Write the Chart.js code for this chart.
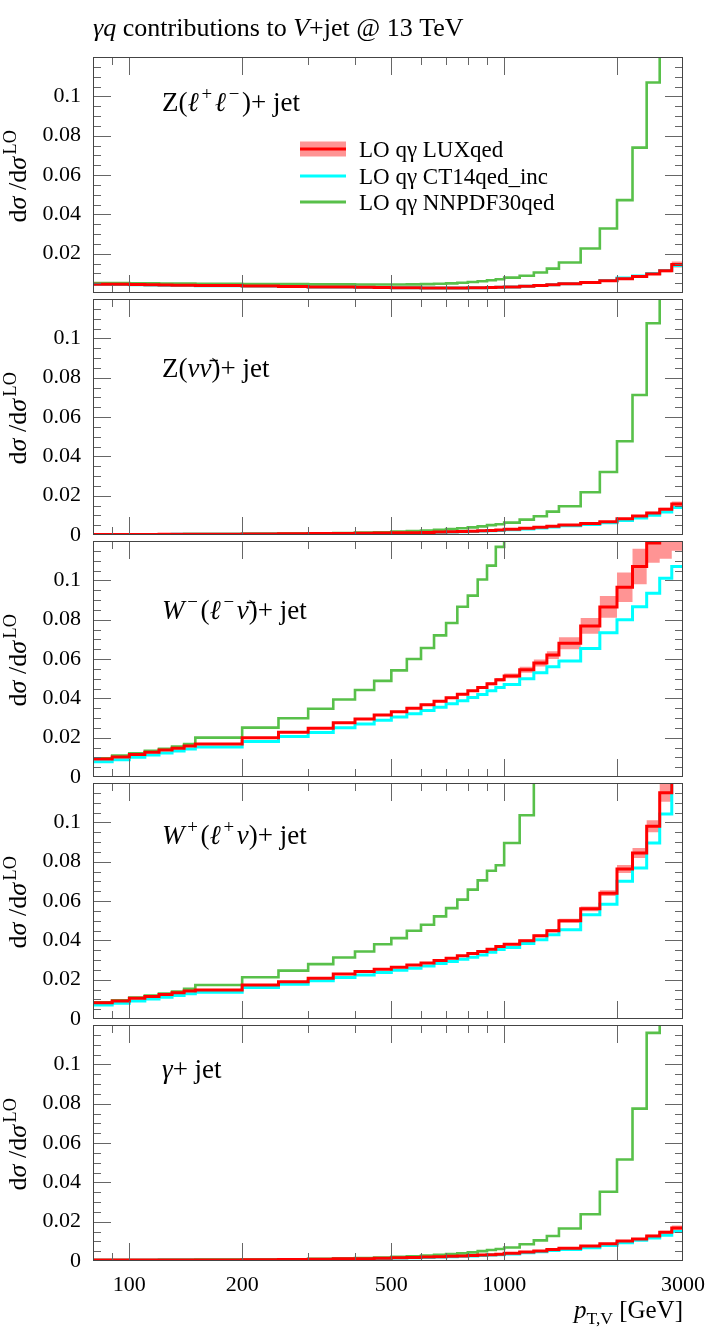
<!DOCTYPE html>
<html>
<head>
<meta charset="utf-8">
<script src="https://cdn.jsdelivr.net/npm/chart.js@4.4.1/dist/chart.umd.min.js"></script>
<style>
  body { margin: 0; background: #fff; }
  #wrap { position: relative; width: 712px; height: 1329px; }
  #wrap canvas { position: absolute; left: 0; }
</style>
</head>
<body>
<div id="wrap"></div>
<script>
// pT bin edges [GeV]
const binEdges = [80, 90, 100, 110, 120, 130, 140, 150, 200, 250, 300, 350, 400, 450, 500, 550, 600, 650,
  700, 750, 800, 850, 900, 950, 1000, 1100, 1200, 1300, 1400, 1600, 1800, 2000, 2200, 2400, 2600, 2800, 3000];

const seriesNames = ['LO qγ LUXqed', 'LO qγ CT14qed_inc', 'LO qγ NNPDF30qed'];

// axis ticks
const xLabelValues = [100, 200, 500, 1000, 3000];
const xTickValues = [90, 100, 200, 300, 400, 500, 600, 700, 800, 900, 1000, 2000];
const xLongTicks = [100, 200, 500, 1000, 2000];
const yTickValues = [0, 0.02, 0.04, 0.06, 0.08, 0.1];

// Z(l+l-) + jet
const zllLux = [0.0045, 0.0044, 0.0043, 0.0042, 0.0041, 0.0040, 0.0040, 0.0038, 0.0035, 0.0033, 0.0031, 0.0030,
  0.0029, 0.0028, 0.0027, 0.0027, 0.0026, 0.0026, 0.0026, 0.0026, 0.0027, 0.0027, 0.0028, 0.0029,
  0.0031, 0.0034, 0.0038, 0.0042, 0.0047, 0.0053, 0.0062, 0.0073, 0.0084, 0.0097, 0.0113, 0.0145];
const zllLuxErr = [0.0002, 0.0002, 0.0002, 0.0002, 0.0002, 0.0002, 0.0002, 0.0002, 0.0002, 0.0002, 0.0002, 0.0002,
  0.0002, 0.0002, 0.0002, 0.0002, 0.0002, 0.0002, 0.0002, 0.0002, 0.0002, 0.0002, 0.0002, 0.0002,
  0.0002, 0.0002, 0.0002, 0.0002, 0.0003, 0.0003, 0.0004, 0.0004, 0.0005, 0.0006, 0.0008, 0.0015];
const zllCt14 = [0.0044, 0.0043, 0.0042, 0.0041, 0.0040, 0.0039, 0.0039, 0.0037, 0.0035, 0.0033, 0.0031, 0.0030,
  0.0029, 0.0028, 0.0027, 0.0027, 0.0026, 0.0026, 0.0026, 0.0026, 0.0027, 0.0027, 0.0028, 0.0029,
  0.0031, 0.0034, 0.0038, 0.0042, 0.0047, 0.0054, 0.0064, 0.0076, 0.0087, 0.0099, 0.0114, 0.0140];
const zllNnpdf = [0.0050, 0.0050, 0.0049, 0.0049, 0.0048, 0.0048, 0.0048, 0.0047, 0.0046, 0.0045, 0.0044, 0.0044,
  0.0043, 0.0043, 0.0043, 0.0044, 0.0045, 0.0047, 0.0049, 0.0052, 0.0056, 0.0060, 0.0065, 0.0070,
  0.0078, 0.0088, 0.0104, 0.0124, 0.0155, 0.0226, 0.0328, 0.0472, 0.0739, 0.1070, 0.1500, 0.2000];

// Z(nu nubar) + jet
const znnLux = [0.0003, 0.0003, 0.0003, 0.0003, 0.0004, 0.0004, 0.0004, 0.0004, 0.0005, 0.0006, 0.0007, 0.0008,
  0.0009, 0.0010, 0.0011, 0.0012, 0.0013, 0.0015, 0.0016, 0.0018, 0.0019, 0.0021, 0.0023, 0.0025,
  0.0029, 0.0034, 0.0039, 0.0044, 0.0051, 0.0058, 0.0068, 0.0082, 0.0097, 0.0112, 0.0131, 0.0158];
const znnLuxErr = [0.0001, 0.0001, 0.0001, 0.0001, 0.0001, 0.0001, 0.0001, 0.0001, 0.0001, 0.0001, 0.0001, 0.0001,
  0.0001, 0.0001, 0.0001, 0.0001, 0.0001, 0.0001, 0.0001, 0.0001, 0.0001, 0.0001, 0.0001, 0.0001,
  0.0002, 0.0002, 0.0002, 0.0002, 0.0003, 0.0003, 0.0003, 0.0004, 0.0005, 0.0006, 0.0008, 0.0012];
const znnCt14 = [0.0003, 0.0003, 0.0003, 0.0003, 0.0003, 0.0004, 0.0004, 0.0004, 0.0005, 0.0005, 0.0006, 0.0007,
  0.0008, 0.0009, 0.0010, 0.0011, 0.0012, 0.0014, 0.0015, 0.0017, 0.0018, 0.0020, 0.0021, 0.0023,
  0.0027, 0.0031, 0.0036, 0.0041, 0.0047, 0.0053, 0.0062, 0.0074, 0.0086, 0.0100, 0.0117, 0.0140];
const znnNnpdf = [0.0003, 0.0003, 0.0003, 0.0004, 0.0004, 0.0004, 0.0005, 0.0005, 0.0006, 0.0007, 0.0008, 0.0010,
  0.0012, 0.0014, 0.0017, 0.0020, 0.0023, 0.0027, 0.0030, 0.0034, 0.0039, 0.0044, 0.0050, 0.0055,
  0.0063, 0.0078, 0.0095, 0.0119, 0.0146, 0.0217, 0.0320, 0.0477, 0.0712, 0.1077, 0.1600, 0.2200];

// W-(l- nubar) + jet
const wmLux = [0.0092, 0.0102, 0.0114, 0.0126, 0.0137, 0.0146, 0.0158, 0.0168, 0.0200, 0.0228, 0.0248, 0.0276,
  0.0295, 0.0315, 0.0332, 0.0350, 0.0367, 0.0385, 0.0403, 0.0421, 0.0438, 0.0455, 0.0474, 0.0494,
  0.0514, 0.0545, 0.0580, 0.0620, 0.0680, 0.0768, 0.0865, 0.0965, 0.1070, 0.1190, 0.1240, 0.1280];
const wmLuxErr = [0.0003, 0.0003, 0.0003, 0.0003, 0.0003, 0.0003, 0.0003, 0.0003, 0.0004, 0.0004, 0.0004, 0.0004,
  0.0004, 0.0004, 0.0004, 0.0004, 0.0005, 0.0005, 0.0005, 0.0005, 0.0005, 0.0005, 0.0007, 0.0009,
  0.0012, 0.0015, 0.0018, 0.0020, 0.0030, 0.0040, 0.0055, 0.0075, 0.0090, 0.0100, 0.0130, 0.0130];
const wmCt14 = [0.0078, 0.0088, 0.0100, 0.0112, 0.0122, 0.0132, 0.0142, 0.0152, 0.0180, 0.0206, 0.0226, 0.0250,
  0.0270, 0.0288, 0.0305, 0.0322, 0.0338, 0.0355, 0.0372, 0.0388, 0.0404, 0.0420, 0.0438, 0.0455,
  0.0470, 0.0500, 0.0530, 0.0560, 0.0590, 0.0654, 0.0734, 0.0799, 0.0866, 0.0934, 0.1010, 0.1070];
const wmNnpdf = [0.0095, 0.0109, 0.0120, 0.0133, 0.0143, 0.0155, 0.0168, 0.0200, 0.0251, 0.0299, 0.0347, 0.0394,
  0.0442, 0.0489, 0.0542, 0.0600, 0.0656, 0.0720, 0.0783, 0.0866, 0.0922, 0.1004, 0.1075, 0.1170,
  0.1300, 0.1450, 0.1600, 0.1750, 0.1900, 0.2100, 0.2300, 0.2500, 0.2700, 0.2900, 0.3100, 0.3300];

// W+(l+ nu) + jet
const wpLux = [0.0083, 0.0092, 0.0105, 0.0114, 0.0124, 0.0133, 0.0143, 0.0148, 0.0173, 0.0190, 0.0207, 0.0229,
  0.0241, 0.0253, 0.0263, 0.0274, 0.0285, 0.0297, 0.0309, 0.0321, 0.0333, 0.0343, 0.0355, 0.0369,
  0.0380, 0.0398, 0.0423, 0.0449, 0.0500, 0.0560, 0.0640, 0.0763, 0.0844, 0.0980, 0.1150, 0.1350];
const wpLuxErr = [0.0003, 0.0003, 0.0003, 0.0003, 0.0003, 0.0003, 0.0003, 0.0003, 0.0003, 0.0003, 0.0003, 0.0003,
  0.0003, 0.0003, 0.0003, 0.0003, 0.0004, 0.0004, 0.0004, 0.0004, 0.0004, 0.0004, 0.0004, 0.0004,
  0.0005, 0.0006, 0.0007, 0.0008, 0.0010, 0.0012, 0.0015, 0.0020, 0.0025, 0.0030, 0.0045, 0.0060];
const wpCt14 = [0.0071, 0.0080, 0.0092, 0.0102, 0.0110, 0.0120, 0.0129, 0.0136, 0.0160, 0.0177, 0.0194, 0.0211,
  0.0224, 0.0236, 0.0248, 0.0258, 0.0270, 0.0282, 0.0292, 0.0304, 0.0314, 0.0326, 0.0340, 0.0353,
  0.0364, 0.0384, 0.0403, 0.0428, 0.0454, 0.0530, 0.0584, 0.0700, 0.0768, 0.0895, 0.1043, 0.1250];
const wpNnpdf = [0.0085, 0.0095, 0.0109, 0.0119, 0.0129, 0.0139, 0.0153, 0.0173, 0.0212, 0.0246, 0.0279, 0.0313,
  0.0343, 0.0380, 0.0411, 0.0449, 0.0479, 0.0522, 0.0564, 0.0607, 0.0658, 0.0705, 0.0754, 0.0782,
  0.0895, 0.1036, 0.1300, 0.1500, 0.1700, 0.1900, 0.2100, 0.2300, 0.2500, 0.2700, 0.2900, 0.3100];

// gamma + jet
const gamLux = [0.0005, 0.0005, 0.0005, 0.0005, 0.0005, 0.0005, 0.0005, 0.0005, 0.0006, 0.0008, 0.0009, 0.0011,
  0.0012, 0.0014, 0.0016, 0.0018, 0.0020, 0.0022, 0.0024, 0.0026, 0.0028, 0.0030, 0.0032, 0.0034,
  0.0039, 0.0046, 0.0051, 0.0058, 0.0065, 0.0076, 0.0088, 0.0102, 0.0112, 0.0127, 0.0146, 0.0168];
const gamLuxErr = [0.0001, 0.0001, 0.0001, 0.0001, 0.0001, 0.0001, 0.0001, 0.0001, 0.0001, 0.0001, 0.0001, 0.0001,
  0.0001, 0.0001, 0.0001, 0.0001, 0.0001, 0.0001, 0.0001, 0.0001, 0.0001, 0.0001, 0.0001, 0.0001,
  0.0002, 0.0002, 0.0002, 0.0002, 0.0003, 0.0003, 0.0003, 0.0004, 0.0005, 0.0006, 0.0008, 0.0012];
const gamCt14 = [0.0004, 0.0004, 0.0004, 0.0004, 0.0005, 0.0005, 0.0005, 0.0005, 0.0006, 0.0007, 0.0008, 0.0010,
  0.0011, 0.0013, 0.0015, 0.0016, 0.0018, 0.0020, 0.0022, 0.0024, 0.0026, 0.0028, 0.0030, 0.0032,
  0.0036, 0.0042, 0.0047, 0.0053, 0.0059, 0.0068, 0.0079, 0.0093, 0.0105, 0.0117, 0.0131, 0.0150];
const gamNnpdf = [0.0005, 0.0005, 0.0005, 0.0005, 0.0006, 0.0006, 0.0006, 0.0007, 0.0008, 0.0009, 0.0011, 0.0013,
  0.0015, 0.0018, 0.0021, 0.0024, 0.0028, 0.0031, 0.0035, 0.0039, 0.0044, 0.0050, 0.0056, 0.0061,
  0.0069, 0.0085, 0.0105, 0.0127, 0.0165, 0.0238, 0.0352, 0.0516, 0.0775, 0.1160, 0.1700, 0.2400];

// labels as [text, style] runs: '' upright, 'i' italic, 'sup', 'sub'
const panelLabels = [
  [['Z(', ''], ['ℓ', 'i'], ['+', 'sup'], ['ℓ', 'i'], ['−', 'sup'], [')+ jet', '']],
  [['Z(', ''], ['νν\u0304', 'i'], [')+ jet', '']],
  [['W', 'i'], ['−', 'sup'], ['(', ''], ['ℓ', 'i'], ['−', 'sup'], ['ν\u0304', 'i'], [')+ jet', '']],
  [['W', 'i'], ['+', 'sup'], ['(', ''], ['ℓ', 'i'], ['+', 'sup'], ['ν', 'i'], [')+ jet', '']],
  [['γ', 'i'], ['+ jet', '']]
];
const titleText = [['γq', 'i'], [' contributions to ', ''], ['V', 'i'], ['+jet @ 13 TeV', '']];
const yTitleText = [['d', ''], ['σ', 'i'], [' /d', ''], ['σ', 'i'], ['LO', 'sup']];
const xTitleText = [['p', 'i'], ['T,V', 'sub'], [' [GeV]', '']];

const panels = [
  { lux: zllLux, err: zllLuxErr, ct14: zllCt14, nnpdf: zllNnpdf },
  { lux: znnLux, err: znnLuxErr, ct14: znnCt14, nnpdf: znnNnpdf },
  { lux: wmLux, err: wmLuxErr, ct14: wmCt14, nnpdf: wmNnpdf },
  { lux: wpLux, err: wpLuxErr, ct14: wpCt14, nnpdf: wpNnpdf },
  { lux: gamLux, err: gamLuxErr, ct14: gamCt14, nnpdf: gamNnpdf }
];

// layout
const FONT = '"Liberation Serif", "DejaVu Serif", serif';
const PLOT_LEFT = 93, PLOT_RIGHT = 683;
const PANEL_TOP = [57, 299, 541, 783, 1025];
const PANEL_H = 236;
const LABEL_DY = [54, 78, 78, 61, 53];
const LUX_COLOR = '#ff0000', CT14_COLOR = '#00ffff', NNPDF_COLOR = '#58c04a', BAND_COLOR = 'rgba(255, 0, 0, 0.42)';

function histPoints(vals) {
  const pts = vals.map((v, i) => ({ x: binEdges[i], y: v }));
  pts.push({ x: binEdges[binEdges.length - 1], y: vals[vals.length - 1] });
  return pts;
}

function richText(ctx, parts, x, y, size, align) {
  const small = st => st === 'sup' || st === 'sub';
  const fontFor = st => (st === 'i' ? 'italic ' : '') + (small(st) ? size * 0.7 : size) + 'px ' + FONT;
  const gap = st => (st === 'sup' ? size * 0.1 : 0);
  let w = 0;
  parts.forEach(([t, st]) => { ctx.font = fontFor(st); w += ctx.measureText(t).width + 2 * gap(st); });
  let cx = align === 'right' ? x - w : align === 'center' ? x - w / 2 : x;
  ctx.fillStyle = '#000';
  ctx.textAlign = 'left';
  ctx.textBaseline = 'alphabetic';
  parts.forEach(([t, st]) => {
    ctx.font = fontFor(st);
    const dy = st === 'sup' ? -size * 0.4 : st === 'sub' ? size * 0.22 : 0;
    cx += gap(st);
    ctx.fillText(t, cx, y + dy);
    cx += ctx.measureText(t).width + gap(st);
  });
}

// frame, inward ticks and all the annotation text
const decor = {
  id: 'decor',
  afterDraw(chart) {
    const i = chart.options.plugins.decor.index;
    const ctx = chart.ctx, a = chart.chartArea;
    const xs = chart.scales.x, ys = chart.scales.y;
    ctx.save();

    ctx.strokeStyle = '#666';
    ctx.lineWidth = 1;
    ctx.beginPath();
    xTickValues.forEach(v => {
      const px = Math.round(xs.getPixelForValue(v)) + 0.5;
      const len = xLongTicks.includes(v) ? 18 : 8;
      ctx.moveTo(px, a.top); ctx.lineTo(px, a.top + len);
      ctx.moveTo(px, a.bottom); ctx.lineTo(px, a.bottom - len);
    });
    for (let k = 1; k < 24; k++) {
      const py = Math.round(ys.getPixelForValue(k * 0.005)) + 0.5;
      const len = k % 4 === 0 ? 18 : 8;
      ctx.moveTo(a.left, py); ctx.lineTo(a.left + len, py);
      ctx.moveTo(a.right, py); ctx.lineTo(a.right - len, py);
    }
    ctx.stroke();

    ctx.strokeStyle = '#444';
    ctx.strokeRect(a.left + 0.5, a.top + 0.5, a.right - a.left - 1, a.bottom - a.top - 1);

    richText(ctx, panelLabels[i], 162, a.top + LABEL_DY[i], 27, 'left');

    ctx.save();
    ctx.translate(26, (a.top + a.bottom) / 2);
    ctx.rotate(-Math.PI / 2);
    richText(ctx, yTitleText, 0, 0, 26, 'center');
    ctx.restore();

    if (i === 0) {
      richText(ctx, titleText, 93, 36, 26, 'left');
      const colors = [LUX_COLOR, CT14_COLOR, NNPDF_COLOR];
      const rows = [149, 176, 202];
      rows.forEach((ry, r) => {
        if (r === 0) {
          ctx.fillStyle = BAND_COLOR;
          ctx.fillRect(300, ry - 7.5, 46, 15);
        }
        ctx.strokeStyle = colors[r];
        ctx.lineWidth = 3;
        ctx.beginPath();
        ctx.moveTo(300, ry); ctx.lineTo(346, ry);
        ctx.stroke();
        richText(ctx, [[seriesNames[r], '']], 359, ry + 8, 23, 'left');
      });
    }
    if (i === 4) {
      richText(ctx, xTitleText, PLOT_RIGHT, a.bottom + 57, 25, 'right');
    }
    ctx.restore();
  }
};

const wrap = document.getElementById('wrap');
panels.forEach((p, i) => {
  const last = i === panels.length - 1;
  const top = i === 0 ? 0 : PANEL_TOP[i] - 3;
  const bottom = last ? 1329 : PANEL_TOP[i] + PANEL_H + 16;
  const canvas = document.createElement('canvas');
  canvas.width = 712;
  canvas.height = bottom - top;
  canvas.style.top = top + 'px';
  wrap.appendChild(canvas);

  const lo = p.lux.map((v, k) => v - p.err[k]);
  const hi = p.lux.map((v, k) => v + p.err[k]);
  const yLabels = i === 0 ? yTickValues.slice(1) : yTickValues;

  new Chart(canvas, {
    type: 'line',
    data: {
      datasets: [
        { data: histPoints(lo), borderWidth: 0, borderColor: 'transparent', fill: false, order: 3 },
        { data: histPoints(hi), borderWidth: 0, borderColor: 'transparent', backgroundColor: BAND_COLOR, fill: '-1', order: 3 },
        { label: seriesNames[1], data: histPoints(p.ct14), borderColor: CT14_COLOR, borderWidth: 3, order: 2 },
        { label: seriesNames[2], data: histPoints(p.nnpdf), borderColor: NNPDF_COLOR, borderWidth: 2.6, order: 1 },
        { label: seriesNames[0], data: histPoints(p.lux), borderColor: LUX_COLOR, borderWidth: 3, order: 0 }
      ]
    },
    options: {
      responsive: false,
      animation: false,
      elements: { point: { radius: 0 }, line: { stepped: true, tension: 0 } },
      layout: { padding: { top: PANEL_TOP[i] - top, bottom: last ? 0 : 16, left: 0, right: 712 - PLOT_RIGHT } },
      plugins: { legend: { display: false }, tooltip: { enabled: false }, decor: { index: i } },
      scales: {
        x: {
          type: 'logarithmic',
          min: 80,
          max: 3000,
          display: last,
          grid: { display: false, drawTicks: false },
          border: { display: false },
          afterBuildTicks: s => { s.ticks = xLabelValues.map(v => ({ value: v })); },
          ticks: {
            autoSkip: false, maxRotation: 0, padding: 11, color: '#000',
            font: { family: FONT, size: 22 },
            callback: v => String(v)
          },
          afterFit: s => { s.height = last ? 68 : 0; s.paddingLeft = 0; s.paddingRight = 0; }
        },
        y: {
          min: 0,
          max: 0.12,
          grid: { display: false, drawTicks: false },
          border: { display: false },
          afterBuildTicks: s => { s.ticks = yLabels.map(v => ({ value: v })); },
          ticks: {
            padding: 12, color: '#000',
            font: { family: FONT, size: 22 },
            callback: v => (v === 0 ? '0' : String(+v.toFixed(2)))
          },
          afterFit: s => { s.width = PLOT_LEFT; s.paddingTop = 0; s.paddingBottom = 0; }
        }
      }
    },
    plugins: [decor]
  });
});
</script>
</body>
</html>
